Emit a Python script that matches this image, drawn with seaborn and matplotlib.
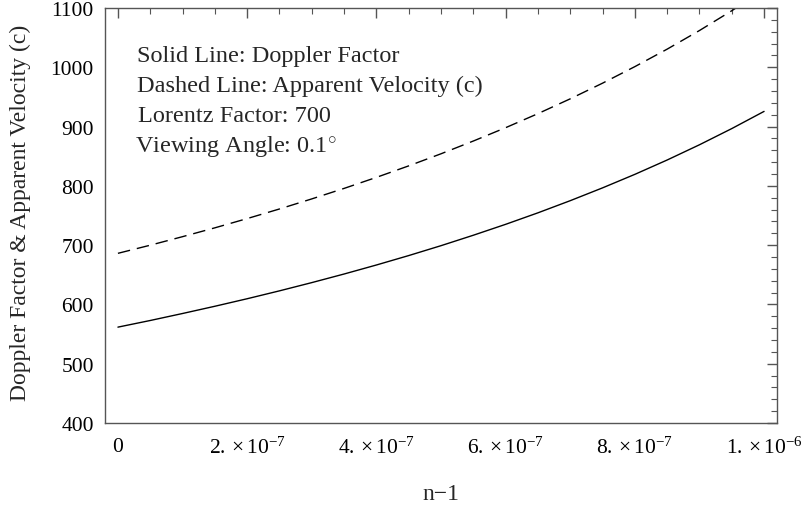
import numpy as np
import pandas as pd
import matplotlib
matplotlib.use("Agg")
import matplotlib.pyplot as plt
import seaborn as sns
from matplotlib.ticker import MultipleLocator, FixedLocator

# ---- data ----
n_minus_1 = [0.0, 0.05e-6, 0.10e-6, 0.15e-6, 0.20e-6, 0.25e-6, 0.30e-6, 0.35e-6,
             0.40e-6, 0.45e-6, 0.50e-6, 0.55e-6, 0.60e-6, 0.65e-6, 0.70e-6,
             0.75e-6, 0.80e-6, 0.85e-6, 0.90e-6, 0.95e-6, 1.00e-6]
doppler = [561.7, 572.9, 584.7, 596.9, 609.6, 622.9, 636.8, 651.3, 666.5, 682.4,
           699.1, 716.7, 735.1, 754.5, 775.0, 796.6, 819.4, 843.6, 869.3, 896.6, 925.6]
apparent = [686.2, 699.9, 714.3, 729.2, 744.8, 761.0, 778.0, 795.7, 814.3, 833.7,
            854.1, 875.6, 898.1, 921.8, 946.8, 973.2, 1001.1, 1030.6, 1062.0, 1095.4, 1130.8]
x_ticks = [0.0, 2e-7, 4e-7, 6e-7, 8e-7, 1e-6]
x_tick_labels = ["0", r"$2.\times10^{-7}$", r"$4.\times10^{-7}$",
                 r"$6.\times10^{-7}$", r"$8.\times10^{-7}$", r"$1.\times10^{-6}$"]
annotations = ["Solid Line: Doppler Factor",
               "Dashed Line: Apparent Velocity (c)",
               "Lorentz Factor: 700",
               r"Viewing Angle: 0.1$^{\circ}$"]

sns.set_style("white")
plt.rcParams['font.family'] = ['Liberation Serif', 'DejaVu Serif']
plt.rcParams['mathtext.fontset'] = 'custom'
plt.rcParams['mathtext.rm'] = 'Liberation Serif'
plt.rcParams['mathtext.it'] = 'Liberation Serif:italic'
plt.rcParams['mathtext.bf'] = 'Liberation Serif:bold'

df = pd.DataFrame({"x": n_minus_1 + n_minus_1,
                   "y": doppler + apparent,
                   "series": ["Doppler"] * len(doppler) + ["Apparent"] * len(apparent)})

fig = plt.figure(figsize=(8.05, 5.10), dpi=100)
ax = fig.add_axes([105/805, 1 - 424/510, (777 - 105)/805, (424 - 9)/510])

sns.lineplot(data=df, x="x", y="y", style="series", color="black",
             dashes={"Doppler": "", "Apparent": (9, 5)}, linewidth=1.0,
             legend=False, ax=ax)

ax.set_xlim(-0.02e-6, 1.02e-6)
ax.set_ylim(400, 1100)

ax.xaxis.set_major_locator(FixedLocator(x_ticks))
ax.set_xticklabels(x_tick_labels)
ax.xaxis.set_minor_locator(MultipleLocator(0.5e-7))
ax.yaxis.set_major_locator(MultipleLocator(100))
ax.yaxis.set_minor_locator(MultipleLocator(20))

axis_col = "#555555"
for s in ax.spines.values():
    s.set_color(axis_col)
    s.set_linewidth(1.0)
ax.tick_params(which="both", direction="in", top=True, right=True,
               color=axis_col, labelsize=15.5, labelcolor="black")
ax.tick_params(which="major", length=7, width=1.0)
ax.tick_params(which="minor", length=4, width=0.8)
ax.tick_params(axis="x", which="major", pad=10)
ax.tick_params(axis="y", which="major", pad=8)

ax.set_xlabel("n\u22121", fontsize=17)
ax.xaxis.set_label_coords(0.5, (424 - 495) / 415)
ax.xaxis.label.set_va("center")
ax.set_ylabel("Doppler Factor & Apparent Velocity (c)", fontsize=17)
ax.yaxis.set_label_coords((20 - 105) / 672, (424 - 213) / 415)
ax.yaxis.label.set_va("center")

ybase = [62, 92, 122, 152]
xpos = [137, 137, 138, 135]
for t, yy, xx in zip(annotations, ybase, xpos):
    fig.text(xx/805, 1 - yy/510, t, fontsize=17.5, va="baseline", ha="left")

fig.savefig("out.png", dpi=100)
